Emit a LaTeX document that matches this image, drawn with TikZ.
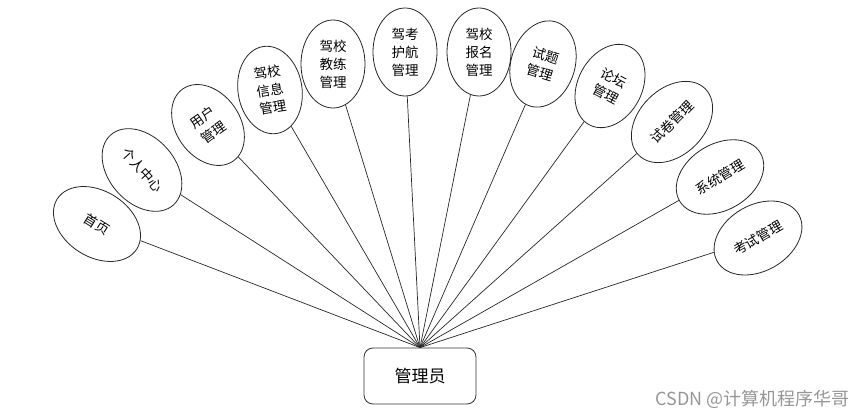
\documentclass[tikz,border=0pt]{standalone}
\usepackage{fontspec}
\setmainfont{Noto Sans CJK SC}
\usetikzlibrary{shapes.geometric}
\definecolor{markGray}{RGB}{150,150,150}

\begin{document}
\begin{tikzpicture}[
  x=1pt, y=-1pt,
  font=\fontsize{13.5}{18}\selectfont,
  func/.style={ellipse, draw=black!85, line width=0.8pt, inner sep=0pt, align=center},
  funcwide/.style={func, minimum width=94pt, minimum height=66pt},
  functall/.style={func, minimum width=64pt, minimum height=88pt},
  role/.style={rounded corners=9pt, draw=black!80, line width=0.8pt,
               minimum width=112pt, minimum height=56pt, font=\fontsize{17}{20}\selectfont},
  link/.style={draw=black!85, line width=0.7pt},
]

\useasboundingbox (0,0) rectangle (868,419);

% ---------- role ----------
\node[role] (admin) at (420,376) {管理员};

% ---------- functions, left to right ----------
\node[funcwide, rotate=-32] (home)       at (97,224)  {首页};
\node[funcwide, rotate=-48] (personal)   at (142,170) {个人中心};
\node[functall, rotate=35]  (user)       at (208,125) {用户\\管理};
\node[functall, rotate=9]   (schoolinfo) at (270,90)  {驾校\\信息\\管理};
\node[functall]             (coach)      at (333,64)  {驾校\\教练\\管理};
\node[functall]             (guide)      at (405,52)  {驾考\\护航\\管理};
\node[functall]             (signup)     at (479,52)  {驾校\\报名\\管理};
\node[functall, rotate=-17] (question)   at (543,64)  {试题\\管理};
\node[functall, rotate=-28] (forum)      at (610,86)  {论坛\\管理};
\node[funcwide, rotate=45]  (paper)      at (672,122) {试卷管理};
\node[funcwide, rotate=31]  (system)     at (720,177) {系统管理};
\node[funcwide, rotate=30]  (exam)       at (758,238) {考试管理};

% ---------- links ----------
\foreach \f in {home,personal,user,schoolinfo,coach,guide,signup,question,forum,paper,system,exam}
  \draw[link] (admin.north) -- (\f);

% watermark
\node[font=\fontsize{18}{20}\selectfont, text=markGray, anchor=east] (mark) at (853,399) {CSDN @计算机程序华哥};

\end{tikzpicture}
\end{document}
